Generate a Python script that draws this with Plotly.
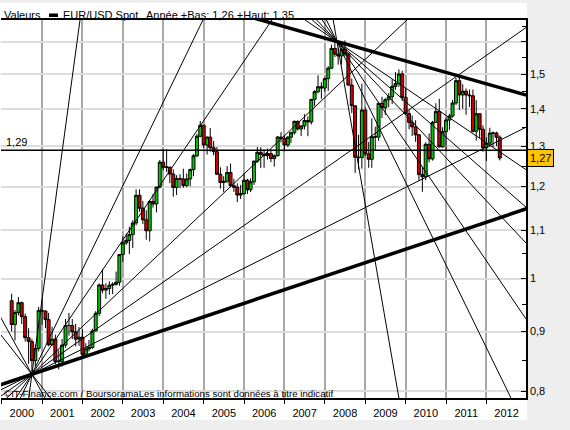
import numpy as np
import pandas as pd
import plotly.graph_objects as go

# ---------------- data: EUR/USD monthly candles (Apr 2000 -> May 2012) ----------------
first_month = "2000-04-01"

o2000 = [.9569, .9128, .9347, .9532, .9271, .8893, .8824, .8497, .8705]
h2000 = [.9700, .9394, .9641, .9553, .9328, .9061, .8874, .8776, .9453]
l2000 = [.9002, .8844, .9296, .9137, .8826, .8444, .8228, .8396, .8655]
c2000 = [.9128, .9347, .9532, .9271, .8893, .8824, .8497, .8705, .9388]

o2001 = [.9388, .9375, .9217, .8770, .8867, .8479, .8486, .8763, .9112, .9111, .8996, .8867]
h2001 = [.9596, .9390, .9342, .9088, .8946, .8674, .8869, .9229, .9339, .9231, .9141, .9080]
l2001 = [.9123, .9063, .8741, .8747, .8436, .8352, .8397, .8718, .8930, .8868, .8740, .8750]
c2001 = [.9375, .9217, .8770, .8867, .8479, .8486, .8763, .9112, .9111, .8996, .8867, .8901]

o2002 = [.8901, .8603, .8696, .8722, .9013, .9334, .9873, .9773, .9804, .9868, .9886, .9927]
h2002 = [.9038, .8795, .8854, .9053, .9374, .9903, 1.0187, .9906, .9946, .9926, 1.0139, 1.0497]
l2002 = [.8576, .8564, .8652, .8697, .9005, .9280, .9713, .9607, .9685, .9695, .9863, .9858]
c2002 = [.8603, .8696, .8722, .9013, .9334, .9873, .9773, .9804, .9868, .9886, .9927, 1.0487]

o2003 = [1.0487, 1.0733, 1.0786, 1.0910, 1.1165, 1.1795, 1.1498, 1.1235, 1.0993, 1.1652, 1.1594, 1.1987]
h2003 = [1.0872, 1.0935, 1.1080, 1.1227, 1.1933, 1.1932, 1.1664, 1.1450, 1.1680, 1.1825, 1.2000, 1.2647]
l2003 = [1.0335, 1.0690, 1.0500, 1.0625, 1.1110, 1.1417, 1.1139, 1.0800, 1.0764, 1.1510, 1.1400, 1.1960]
c2003 = [1.0733, 1.0786, 1.0910, 1.1165, 1.1795, 1.1498, 1.1235, 1.0993, 1.1652, 1.1594, 1.1987, 1.2596]

o2004 = [1.2596, 1.2467, 1.2474, 1.2302, 1.1979, 1.2195, 1.2183, 1.2026, 1.2184, 1.2411, 1.2757, 1.3260]
h2004 = [1.2927, 1.2930, 1.2480, 1.2417, 1.2275, 1.2297, 1.2433, 1.2318, 1.2436, 1.2800, 1.3320, 1.3667]
l2004 = [1.2392, 1.2355, 1.2083, 1.1760, 1.1802, 1.1963, 1.1973, 1.1985, 1.2006, 1.2250, 1.2720, 1.3232]
c2004 = [1.2467, 1.2474, 1.2302, 1.1979, 1.2195, 1.2183, 1.2026, 1.2184, 1.2411, 1.2757, 1.3260, 1.3554]

o2005 = [1.3554, 1.3032, 1.3237, 1.2961, 1.2860, 1.2297, 1.2097, 1.2126, 1.2341, 1.2023, 1.1985, 1.1800]
h2005 = [1.3560, 1.3260, 1.3480, 1.3136, 1.2980, 1.2469, 1.2250, 1.2500, 1.2560, 1.2188, 1.2080, 1.2040]
l2005 = [1.2955, 1.2788, 1.2860, 1.2768, 1.2290, 1.1953, 1.1867, 1.2090, 1.1988, 1.1874, 1.1640, 1.1707]
c2005 = [1.3032, 1.3237, 1.2961, 1.2860, 1.2297, 1.2097, 1.2126, 1.2341, 1.2023, 1.1985, 1.1800, 1.1836]

o2006 = [1.1836, 1.2153, 1.1925, 1.2114, 1.2620, 1.2845, 1.2791, 1.2760, 1.2813, 1.2686, 1.2758, 1.3239]
h2006 = [1.2323, 1.2185, 1.2200, 1.2638, 1.2980, 1.2975, 1.2908, 1.2939, 1.2909, 1.2790, 1.3268, 1.3367]
l2006 = [1.1805, 1.1825, 1.1868, 1.2040, 1.2580, 1.2454, 1.2457, 1.2663, 1.2597, 1.2484, 1.2740, 1.3095]
c2006 = [1.2153, 1.1925, 1.2114, 1.2620, 1.2845, 1.2791, 1.2760, 1.2813, 1.2686, 1.2758, 1.3239, 1.3199]

o2007 = [1.3199, 1.3032, 1.3235, 1.3355, 1.3658, 1.3452, 1.3533, 1.3681, 1.3640, 1.4267, 1.4486, 1.4630]
h2007 = [1.3270, 1.3270, 1.3380, 1.3681, 1.3683, 1.3545, 1.3852, 1.3792, 1.4280, 1.4530, 1.4967, 1.4760]
l2007 = [1.2866, 1.2976, 1.3080, 1.3300, 1.3415, 1.3266, 1.3440, 1.3261, 1.3573, 1.4075, 1.4438, 1.4284]
c2007 = [1.3032, 1.3235, 1.3355, 1.3658, 1.3452, 1.3533, 1.3681, 1.3640, 1.4267, 1.4486, 1.4630, 1.4590]

o2008 = [1.4590, 1.4866, 1.5177, 1.5784, 1.5605, 1.5550, 1.5760, 1.5611, 1.4678, 1.4087, 1.2720, 1.2710]
h2008 = [1.4900, 1.5237, 1.5904, 1.6018, 1.5810, 1.5800, 1.6038, 1.5640, 1.4867, 1.4100, 1.3300, 1.4719]
l2008 = [1.4483, 1.4508, 1.5160, 1.5515, 1.5283, 1.5284, 1.5540, 1.4659, 1.3882, 1.2330, 1.2420, 1.2435]
c2008 = [1.4866, 1.5177, 1.5784, 1.5605, 1.5550, 1.5760, 1.5611, 1.4678, 1.4087, 1.2720, 1.2710, 1.3969]

o2009 = [1.3969, 1.2805, 1.2669, 1.3249, 1.3238, 1.4155, 1.4034, 1.4257, 1.4342, 1.4641, 1.4718, 1.5005]
h2009 = [1.4040, 1.3108, 1.3739, 1.3515, 1.4174, 1.4340, 1.4303, 1.4446, 1.4843, 1.5062, 1.5144, 1.5100]
l2009 = [1.2745, 1.2456, 1.2455, 1.2885, 1.3140, 1.3747, 1.3833, 1.4047, 1.4135, 1.4540, 1.4626, 1.4219]
c2009 = [1.2805, 1.2669, 1.3249, 1.3238, 1.4155, 1.4034, 1.4257, 1.4342, 1.4641, 1.4718, 1.5005, 1.4325]

o2010 = [1.4325, 1.3867, 1.3630, 1.3508, 1.3297, 1.2294, 1.2236, 1.3051, 1.2677, 1.3630, 1.3929, 1.2983]
h2010 = [1.4579, 1.3963, 1.3818, 1.3690, 1.3322, 1.2475, 1.3105, 1.3334, 1.3670, 1.4158, 1.4282, 1.3500]
l2010 = [1.3859, 1.3443, 1.3267, 1.3115, 1.2143, 1.1877, 1.2152, 1.2589, 1.2634, 1.3617, 1.2968, 1.2967]
c2010 = [1.3867, 1.3630, 1.3508, 1.3297, 1.2294, 1.2236, 1.3051, 1.2677, 1.3630, 1.3929, 1.2983, 1.3384]

o2011 = [1.3384, 1.3693, 1.3802, 1.4163, 1.4806, 1.4393, 1.4499, 1.4390, 1.4369, 1.3390, 1.3866, 1.3446]
h2011 = [1.3758, 1.3862, 1.4249, 1.4882, 1.4940, 1.4700, 1.4578, 1.4549, 1.4550, 1.4245, 1.3870, 1.3550]
l2011 = [1.2871, 1.3430, 1.3760, 1.4110, 1.3968, 1.4000, 1.3836, 1.4050, 1.3360, 1.3145, 1.3212, 1.2858]
c2011 = [1.3693, 1.3802, 1.4163, 1.4806, 1.4393, 1.4499, 1.4390, 1.4369, 1.3390, 1.3866, 1.3446, 1.2960]

o2012 = [1.2960, 1.3079, 1.3344, 1.3345, 1.3235]
h2012 = [1.3234, 1.3486, 1.3385, 1.3380, 1.3284]
l2012 = [1.2624, 1.2975, 1.2977, 1.3003, 1.2640]
c2012 = [1.3079, 1.3344, 1.3345, 1.3235, 1.2700]

# fan from the 2000 low: pivot + points each line passes through
low_fan_pivot = ("2000-10-01", 0.827)
low_fan_dates = ["2001-12-10", "2004-12-25", "2006-09-10", "2010-01-13", "2012-12-24", "2012-12-24", "2012-12-24", "1999-12-26", "1999-12-26"]
low_fan_prices = [1.67, 1.67, 1.67, 1.67, 1.645, 1.35, 1.148, 0.925, 0.894]
low_fan_widths = [1, 1, 1, 1, 1, 1, 3.5, 1, 1]

# fan from the 2008 high
high_fan_pivot = ("2008-04-20", 1.60)
high_fan_dates = ["2012-12-24", "2012-12-24", "2012-12-24", "2012-12-24", "2012-12-24", "2012-08-10", "2009-11-01"]
high_fan_prices = [1.439, 1.241, 1.152, 1.073, 0.923, 0.789, 0.789]
high_fan_widths = [3.5, 1, 1, 1, 1, 1, 1]

level_line = 1.29
level_label = "1,29"
year_low, year_high = "1,26", "1,35"

ytick_vals = [0.8, 0.9, 1.0, 1.1, 1.2, 1.3, 1.4, 1.5, 1.6]
ytick_text = ["0,8", "0,9", "1", "1,1", "1,2", "1,3", "1,4", "1,5", ""]
yminor_vals = [0.85, 0.95, 1.05, 1.15, 1.25, 1.35, 1.45, 1.55, 1.65]

# ---------------- assemble ----------------
opens = o2000 + o2001 + o2002 + o2003 + o2004 + o2005 + o2006 + o2007 + o2008 + o2009 + o2010 + o2011 + o2012
highs = h2000 + h2001 + h2002 + h2003 + h2004 + h2005 + h2006 + h2007 + h2008 + h2009 + h2010 + h2011 + h2012
lows = l2000 + l2001 + l2002 + l2003 + l2004 + l2005 + l2006 + l2007 + l2008 + l2009 + l2010 + l2011 + l2012
closes = c2000 + c2001 + c2002 + c2003 + c2004 + c2005 + c2006 + c2007 + c2008 + c2009 + c2010 + c2011 + c2012
months = pd.date_range(first_month, periods=len(closes), freq="MS")

W, H = 570, 430
L, R, T, B = 1, 44, 20, 32
PW, PH = W - L - R, H - T - B
YEAR_PX = 40.4
YEAR0_PX = 1.6

def xp(px):
    return (px - L) / PW

def yp(py):
    return (T + PH - py) / PH

BASE = pd.Timestamp("2000-01-01")

def yfrac(d):
    return 2000 + (pd.Timestamp(d) - BASE).total_seconds() / 86400 / 365.25

def to_ts(y):
    return BASE + pd.to_timedelta((y - 2000) * 365.25, unit="D")

t_left = 2000 + (L - YEAR0_PX) / YEAR_PX
t_right = 2000 + (L + PW - YEAR0_PX) / YEAR_PX
p_low, p_high = 0.789, 1.6699

def full_line(piv, d1, p1, pmin=0.6, pmax=2.2):
    d0, p0 = piv
    t0, t1 = yfrac(d0), yfrac(d1)
    k = (np.log(p1) - np.log(p0)) / (t1 - t0)
    ta, tb = t_left - 0.2, t_right + 0.2
    if abs(k) > 1e-9:
        tl = t0 + (np.log(pmin) - np.log(p0)) / k
        th = t0 + (np.log(pmax) - np.log(p0)) / k
        ta, tb = max(ta, min(tl, th)), min(tb, max(tl, th))
    xs = [to_ts(ta), to_ts(tb)]
    ys = [p0 * np.exp(k * (ta - t0)), p0 * np.exp(k * (tb - t0))]
    return xs, ys

fig = go.Figure()

fig.add_trace(go.Candlestick(
    x=months, open=opens, high=highs, low=lows, close=closes,
    increasing=dict(fillcolor="#00C800", line=dict(color="black", width=1)),
    decreasing=dict(fillcolor="#D40000", line=dict(color="black", width=1)),
    whiskerwidth=0, showlegend=False, hoverinfo="skip"))

fig.add_trace(go.Scatter(x=[to_ts(t_left - 0.1), to_ts(t_right + 0.1)], y=[level_line, level_line],
                         mode="lines", line=dict(color="black", width=1.5),
                         showlegend=False, hoverinfo="skip"))

for d, p, w in zip(low_fan_dates, low_fan_prices, low_fan_widths):
    xs, ys = full_line(low_fan_pivot, d, p)
    fig.add_trace(go.Scatter(x=xs, y=ys, mode="lines", line=dict(color="black", width=w),
                             showlegend=False, hoverinfo="skip"))
for d, p, w in zip(high_fan_dates, high_fan_prices, high_fan_widths):
    xs, ys = full_line(high_fan_pivot, d, p)
    fig.add_trace(go.Scatter(x=xs, y=ys, mode="lines", line=dict(color="black", width=w),
                             showlegend=False, hoverinfo="skip"))

FONT = "Liberation Sans"

annotations = [
    dict(text="Valeurs", x=xp(2), y=yp(15), xref="paper", yref="paper", xanchor="left", yanchor="middle",
         showarrow=False, font=dict(size=11)),
    dict(text="EUR/USD Spot", x=xp(61), y=yp(15), xref="paper", yref="paper", xanchor="left", yanchor="middle",
         showarrow=False, font=dict(size=11)),
    dict(text=f"Année +Bas: {year_low} +Haut: {year_high}", x=xp(144), y=yp(15), xref="paper", yref="paper",
         xanchor="left", yanchor="middle", showarrow=False, font=dict(size=11)),
    dict(text=level_label, x=xp(4), y=np.log10(level_line), xref="paper", yref="y", xanchor="left",
         yanchor="bottom", showarrow=False, font=dict(size=11)),
    dict(text=f"{closes[-1]:.2f}".replace(".", ","), x=1, y=np.log10(closes[-1]), xref="paper", yref="y",
         xanchor="left", yanchor="middle", xshift=1, showarrow=False, font=dict(size=11),
         bgcolor="#FFC400", bordercolor="black", borderwidth=1, borderpad=2),
    dict(text="©IT-Finance.com / BoursoramaLes informations sont données à titre indicatif",
         x=xp(2), y=yp(393), xref="paper", yref="paper", xanchor="left", yanchor="middle",
         showarrow=False, font=dict(size=9.7)),
]

shapes = [
    dict(type="rect", xref="paper", yref="paper", x0=xp(0), x1=xp(527), y0=yp(420), y1=yp(3),
         fillcolor="white", line=dict(width=0), layer="below"),
    dict(type="rect", xref="paper", yref="paper", x0=xp(49), x1=xp(58), y0=yp(17), y1=yp(13.5),
         fillcolor="black", line=dict(width=0)),
]

fig.update_layout(
    width=W, height=H, margin=dict(l=L, r=R, t=T, b=B, pad=0),
    paper_bgcolor="#EEEEEE", plot_bgcolor="rgba(0,0,0,0)",
    font=dict(family=FONT, size=11, color="black"),
    showlegend=False, boxgap=0.05, boxgroupgap=0,
    annotations=annotations, shapes=shapes,
    xaxis=dict(type="date", range=[to_ts(t_left), to_ts(t_right)], tickformat="%Y", dtick="M12",
               tick0="2000-01-01", ticklabelmode="period", ticks="outside", ticklen=4, tickcolor="black",
               showgrid=True, gridcolor="#A8A8A8", gridwidth=2, showline=True, linecolor="black",
               linewidth=1.5, mirror=True, zeroline=False, rangeslider=dict(visible=False),
               fixedrange=True, tickfont=dict(size=11)),
    yaxis=dict(type="log", side="right", range=[np.log10(p_low), np.log10(p_high)],
               tickmode="array", tickvals=ytick_vals, ticktext=ytick_text, ticks="inside", ticklen=5,
               tickcolor="black", showgrid=True, gridcolor="#DCDCDC", gridwidth=2, showline=True,
               linecolor="black", linewidth=1.5, zeroline=False, fixedrange=True,
               minor=dict(tickmode="array", tickvals=yminor_vals, ticks="inside", ticklen=4,
                          tickcolor="black", showgrid=False),
               tickfont=dict(size=11)),
)

fig.write_html("out.html", config={"displayModeBar": False},
               post_script="document.body.style.margin='0';document.body.style.overflow='hidden';")
